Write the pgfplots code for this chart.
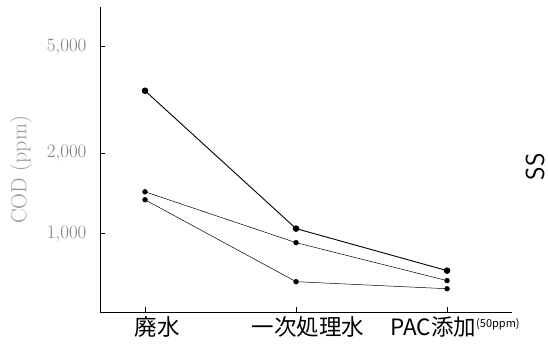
\documentclass[border=0pt]{standalone}
\usepackage{pgfplots}
\pgfplotsset{compat=1.18}
\usepackage{fontspec}
\newfontfamily\cjk{Noto Sans CJK JP}
\begin{document}
\begin{tikzpicture}[x=1pt,y=1pt]
\useasboundingbox (0,0) rectangle (548,-362);
\begin{axis}[
  at={(100pt,-312pt)}, anchor=south west,
  width=412pt, height=305pt, scale only axis,
  xmin=-0.298, xmax=2.43,
  ymode=log, ymin=510, ymax=7030,
  axis x line=bottom, axis y line=left,
  axis line style={-, black, line width=0.6pt},
  tick align=inside, major tick length=5pt,
  tick style={black, line width=0.5pt},
  minor tick num=0, minor ytick={},
  xtick={0,1,2},
  xticklabels={廃水, 一次処理水, {\hspace*{-8pt}PAC添加\raisebox{8pt}{\fontsize{11}{11}\selectfont (50ppm)}}},
  xticklabel style={font=\cjk\fontsize{22.5}{22.5}\selectfont, anchor=north, yshift=-1pt, xshift=12pt},
  ytick={1000,2000,5000},
  yticklabels={{1,000},{2,000},{5,000}},
  yticklabel style={font=\fontsize{19}{19}\selectfont, text=black!50, xshift=-10pt},
  ylabel={COD (ppm)},
  ylabel style={at={(axis description cs:-0.192,0.466)}, anchor=center, font=\fontsize{22}{22}\selectfont, text=black!40},
  clip=false,
]
\addplot[black, line width=0.9pt, mark=*, mark size=2.8pt] coordinates {(0,3420) (1,1045) (2,728)};
\addplot[black, line width=0.5pt, mark=*, mark size=2.4pt] coordinates {(0,1434) (1,926) (2,668)};
\addplot[black, line width=0.5pt, mark=*, mark size=2.4pt] coordinates {(0,1339) (1,662) (2,623)};
\node[rotate=90, font=\sffamily\fontsize{26}{26}\selectfont] at (axis description cs:1.056,0.476) {SS};
\end{axis}
\end{tikzpicture}
\end{document}
